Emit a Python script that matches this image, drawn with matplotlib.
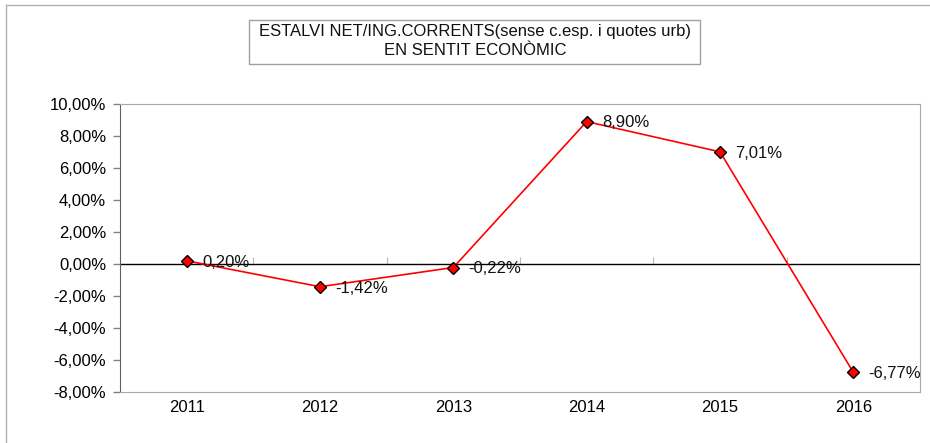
import matplotlib.pyplot as plt
from matplotlib.lines import Line2D
from matplotlib.patches import Rectangle

plt.rcParams['font.family'] = ['Liberation Sans', 'DejaVu Sans']

# dades
anys = ['2011', '2012', '2013', '2014', '2015', '2016']
estalvi = [0.20, -1.42, -0.22, 8.90, 7.01, -6.77]
etiquetes = ['0,20%', '-1,42%', '-0,22%', '8,90%', '7,01%', '-6,77%']
yticks = [-8, -6, -4, -2, 0, 2, 4, 6, 8, 10]

W, H = 930, 443
fig = plt.figure(figsize=(W / 100, H / 100), dpi=100)

# marc exterior (nomes es veu l'esquerra i dalt)
fig.add_artist(Line2D([6 / W, 6 / W], [0, 1 - 5 / H], color='#b0b0b0', lw=1))
fig.add_artist(Line2D([6 / W, 1], [1 - 5 / H, 1 - 5 / H], color='#b0b0b0', lw=1))

ax = fig.add_axes([120 / W, (H - 392) / H, 800 / W, 288 / H])
x = list(range(len(anys)))
ax.plot(x, estalvi, color='red', lw=1.2, marker='D', markersize=6.5,
        markerfacecolor='red', markeredgecolor='black', markeredgewidth=1, zorder=3)
ax.axhline(0, color='black', lw=1, zorder=2)

for xi, v, t in zip(x, estalvi, etiquetes):
    ax.annotate(t, (xi, v), xytext=(11, -1), textcoords='offset points',
                ha='left', va='center', fontsize=12, color='#111111')

ax.set_xlim(-0.5, len(anys) - 0.5)
ax.set_ylim(-8, 10)
ax.set_yticks(yticks)
ax.set_yticklabels([f'{v},00%' for v in yticks])
ax.set_xticks(x)
ax.set_xticklabels(anys)
ax.tick_params(axis='x', length=0, pad=6, labelsize=12)
ax.tick_params(axis='y', length=5, width=1, color='#808080', pad=5, labelsize=12)

for s in ['top', 'right', 'bottom']:
    ax.spines[s].set_color('#a8a8a8')
ax.spines['left'].set_color('#606060')

# marques de categoria sobre la linia del zero
sec = ax.secondary_xaxis(8 / 18)
sec.set_xticks([i + 0.5 for i in x])
sec.tick_params(direction='in', length=5, color='#b8b8b8', labelbottom=False)
sec.spines['bottom'].set_visible(False)

# caixa del titol
fig.add_artist(Rectangle((249 / W, 1 - 64 / H), (700 - 249) / W, 44 / H,
                         transform=fig.transFigure, fill=False, edgecolor='#a0a0a0', lw=1))
fig.text(475 / W, 1 - 41 / H, 'ESTALVI NET/ING.CORRENTS(sense c.esp. i quotes urb)\nEN SENTIT ECONÒMIC',
         ha='center', va='center', fontsize=12, linespacing=1.3, color='#111111')

fig.savefig('out.png', dpi=100)
